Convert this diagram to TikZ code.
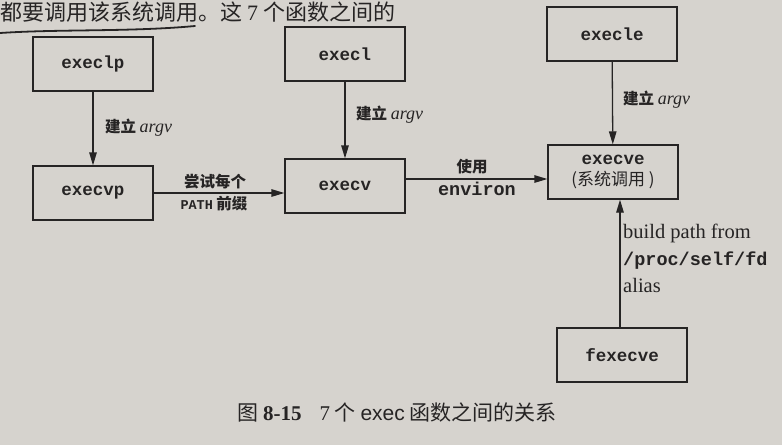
\documentclass[tikz,border=0pt]{standalone}
\usepackage{fontspec}
\setmainfont{Liberation Serif}
\setmonofont{Liberation Mono}
\setsansfont{Liberation Sans}
\newfontfamily\cjk{Noto Sans CJK SC}
\usetikzlibrary{arrows.meta}
\definecolor{paper}{RGB}{214,211,206}
\definecolor{ink}{RGB}{38,36,36}

\begin{document}
\begin{tikzpicture}[x=1pt,y=-1pt,
  fn/.style={draw=ink, line width=1.3pt, minimum width=120pt, minimum height=54pt,
    inner sep=0pt, text=ink, font=\fontsize{17.5}{17.5}\selectfont\ttfamily\bfseries},
  wide/.style={fn, minimum width=130pt},
  link/.style={draw=ink, line width=1.3pt, -{Triangle[length=13pt,width=7.5pt]}},
  lbl/.style={text=ink, inner sep=0pt},
  zh/.style={lbl, font=\fontsize{15.5}{15.5}\selectfont\cjk\bfseries},
]
\useasboundingbox (0,0) rectangle (782,445);
\fill[paper] (0,0) rectangle (782,445);
\clip (0,0) rectangle (782,445);

% running text above the figure, with a pen underline
\node[lbl, anchor=west, font=\fontsize{22}{22}\selectfont\cjk] (runtext) at (0,12)
  {都要调用该系统调用。这 {\rmfamily 7} 个函数之间的};
\draw[ink, line width=1.8pt, line cap=round] (0,33) .. controls (60,29) and (130,32) .. (195,26);

% the seven exec functions
\node[fn]   (execlp)  at (93,64)    {execlp};
\node[fn]   (execvp)  at (93,193)   {execvp};
\node[fn]   (execl)   at (345,54)   {execl};
\node[fn]   (execv)   at (345,186)  {execv};
\node[wide] (execle)  at (612,34)   {execle};
\node[wide, align=center] (execve) at (613,172)
  {execve\\[4pt]{\fontsize{17}{17}\selectfont\cjk\mdseries (系统调用 )}};
\node[wide] (fexecve) at (622,355)  {fexecve};

% connectors
\draw[link] (execlp) -- (execvp);
\draw[link] (execl) -- (execv);
\draw[link] (execle) -- (execve);
\draw[link] (execvp.east) -- (execvp.east -| execv.west);
\draw[link] ([yshift=7pt]execv.east) -- ([yshift=7pt]execv.east -| execve.west);
\draw[link] ([xshift=-2pt]fexecve.north) -- ([xshift=-2pt]fexecve.north |- execve.south);

% connector labels
\node[zh, anchor=west] (argvA) at (105,128) {建立 {\rmfamily\mdseries\itshape\fontsize{18}{18}\selectfont argv}};
\node[zh, anchor=west] (argvB) at (356,115) {建立 {\rmfamily\mdseries\itshape\fontsize{18}{18}\selectfont argv}};
\node[zh, anchor=west] (argvC) at (623,100) {建立 {\rmfamily\mdseries\itshape\fontsize{18}{18}\selectfont argv}};
\node[zh] (tryeach) at (215,182) {尝试每个};
\node[zh] (prefix)  at (214,204) {{\ttfamily\bfseries\fontsize{13.5}{13.5}\selectfont PATH} 前缀};
\node[zh] (useenv)  at (472,167) {使用};
\node[lbl, font=\fontsize{18.5}{18.5}\selectfont\ttfamily\bfseries] (environ) at (477,189) {environ};
\node[lbl, anchor=north west, align=left, font=\fontsize{20.5}{27}\selectfont] (buildpath) at (623,224)
  {build path from\\{\ttfamily\bfseries\fontsize{18.5}{18.5}\selectfont /proc/self/fd}\\alias};

% figure caption
\node[lbl, font=\fontsize{21}{21}\selectfont\cjk] (caption) at (397,412)
  {图 {\rmfamily\bfseries 8-15}\hspace{18pt}{\rmfamily 7} 个 {\sffamily exec} 函数之间的关系};
\end{tikzpicture}
\end{document}
